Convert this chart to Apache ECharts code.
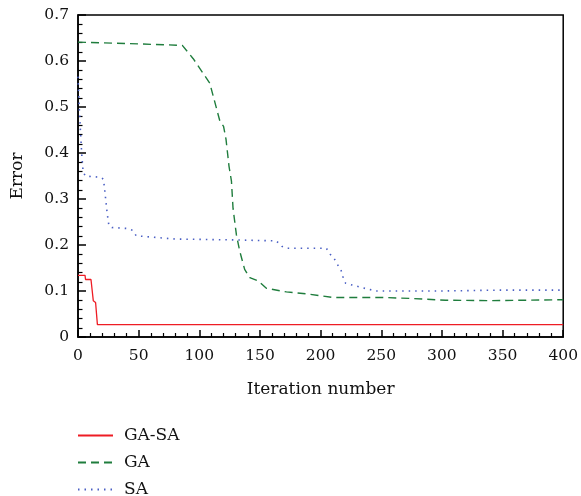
<!DOCTYPE html>
<html>
<head>
<meta charset="utf-8">
<script src="https://cdn.jsdelivr.net/npm/echarts@6/dist/echarts.min.js"></script>
<style>html,body{margin:0;padding:0;background:#fff;}#c{width:581px;height:496px;}</style>
</head>
<body>
<div id="c"></div>
<script>
var seriesNames = ['GA-SA', 'GA', 'SA'];
var xLabelName = 'Iteration number';
var yLabelName = 'Error';
var xMin = 0, xMax = 400, xStep = 50;
var yMin = 0, yMax = 0.7, yStep = 0.1;

var gaSaData = [[0,0.134],[5.8,0.134],[6.2,0.125],[10.7,0.125],[12.6,0.079],[14.5,0.075],[16,0.027],[400,0.027]];
var gaData = [[0,0.641],[40,0.638],[86,0.634],[95,0.605],[108.6,0.552],[117,0.469],[120,0.458],[122,0.43],[124.5,0.371],[126.5,0.339],[127.8,0.28],[130.6,0.222],[133.3,0.187],[137.4,0.147],[141.6,0.129],[148.4,0.122],[155.3,0.106],[171.8,0.098],[191,0.093],[210,0.086],[250,0.086],[273,0.084],[303,0.080],[340,0.079],[370,0.080],[400,0.081]];
var saData = [[0,0.566],[1,0.5],[2,0.45],[3,0.4],[4.2,0.36],[6,0.35],[19,0.347],[21,0.343],[22,0.32],[24,0.27],[25.5,0.242],[28,0.238],[40,0.236],[45,0.232],[48,0.22],[80,0.213],[130,0.211],[163.5,0.209],[168,0.197],[171.8,0.193],[204.7,0.193],[207.9,0.180],[211.5,0.169],[214.3,0.156],[217,0.144],[218.4,0.131],[220.6,0.117],[226,0.113],[232,0.109],[237.6,0.105],[245.8,0.100],[300,0.100],[350,0.102],[400,0.102]];

var font = 'DejaVu Serif';
var chart = echarts.init(document.getElementById('c'), null, {renderer: 'canvas'});
chart.setOption({
  animation: false,
  backgroundColor: '#fff',
  textStyle: {fontFamily: font},
  grid: {left: 78, right: 17, top: 15, bottom: 159, show: true, borderColor: '#000', borderWidth: 1.5, backgroundColor: 'transparent'},
  legend: {
    orient: 'vertical', left: 77, top: 427, height: 90, padding: 0, itemGap: 10, itemWidth: 35, itemHeight: 14,
    data: seriesNames,
    itemStyle: {opacity: 0},
    textStyle: {fontFamily: font, fontSize: 17, lineHeight: 14, color: '#111', padding: [0,0,0,6]}
  },
  xAxis: {
    type: 'value', min: xMin, max: xMax, interval: xStep,
    name: xLabelName, nameLocation: 'middle', nameGap: 44,
    nameTextStyle: {fontFamily: font, fontSize: 17, color: '#111'},
    axisLine: {lineStyle: {color: '#000', width: 1.5}},
    axisTick: {inside: true, length: 7, lineStyle: {color: '#000', width: 1.5}},
    minorTick: {show: true, splitNumber: 5, length: 4, lineStyle: {color: '#000', width: 1.2}},
    axisLabel: {fontFamily: font, fontSize: 15.5, color: '#111', margin: 11},
    splitLine: {show: false}
  },
  yAxis: {
    type: 'value', min: yMin, max: yMax, interval: yStep,
    name: yLabelName, nameLocation: 'middle', nameGap: 52,
    nameTextStyle: {fontFamily: font, fontSize: 17, color: '#111'},
    axisLine: {lineStyle: {color: '#000', width: 1.5}},
    axisTick: {inside: true, length: 8, lineStyle: {color: '#000', width: 1.5}},
    minorTick: {show: true, splitNumber: 5, length: 4.5, lineStyle: {color: '#000', width: 1.2}},
    axisLabel: {fontFamily: font, fontSize: 15.5, color: '#111', margin: 9,
      formatter: function (v) { return v === 0 ? '0' : v.toFixed(1); }},
    splitLine: {show: false}
  },
  series: [
    {name: seriesNames[0], type: 'line', data: gaSaData, symbol: 'none', z: 3,
     lineStyle: {color: '#ee1c24', width: 1.3, type: 'solid'}, itemStyle: {color: '#ee1c24'}},
    {name: seriesNames[1], type: 'line', data: gaData, symbol: 'none', z: 2,
     lineStyle: {color: '#1f7d3d', width: 1.4, type: [8, 5]}, itemStyle: {color: '#1f7d3d'}},
    {name: seriesNames[2], type: 'line', data: saData, symbol: 'none', z: 1,
     lineStyle: {color: '#4a5fc4', width: 1.6, type: [1.5, 5]}, itemStyle: {color: '#4a5fc4'}}
  ]
});
</script>
</body>
</html>
